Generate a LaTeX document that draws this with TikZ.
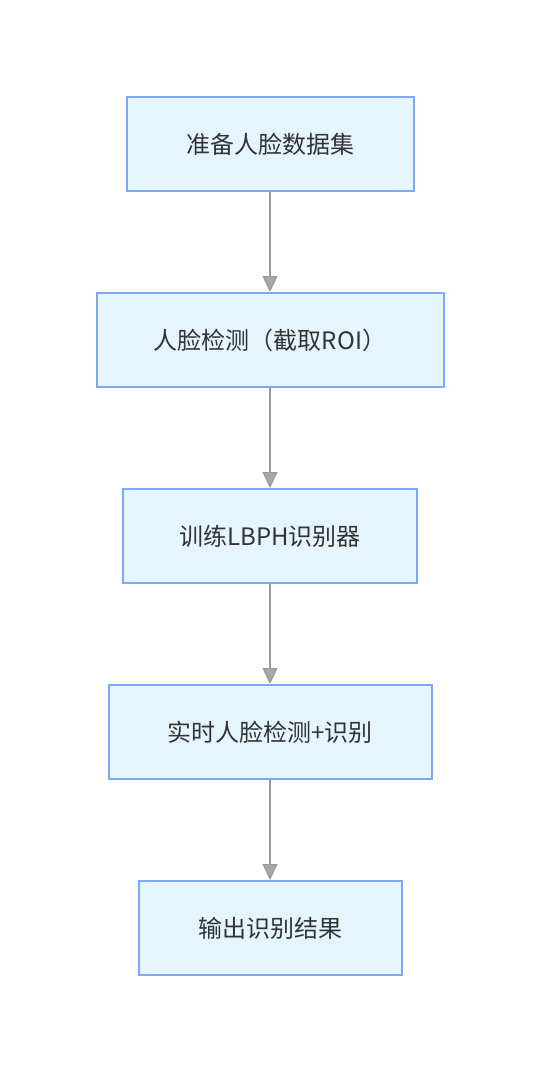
\documentclass[tikz,border=0pt]{standalone}
\usepackage{fontspec}
\newfontfamily\cjk{Noto Sans CJK SC}
\usetikzlibrary{arrows.meta,positioning}
\definecolor{paleblue}{RGB}{229,245,253}
\definecolor{edgeblue}{RGB}{124,168,245}
\definecolor{ink}{RGB}{51,51,51}
\definecolor{linegray}{RGB}{153,153,153}
\tikzset{
  x=1pt,y=1pt,
  >={Triangle[length=16pt,width=15pt,fill=linegray!85!white]},
  stepbox/.style={draw=edgeblue,fill=paleblue,line width=2pt,
    minimum height=94pt,minimum width=#1,align=center,
    font=\cjk\fontsize{24pt}{28pt}\selectfont,text=ink},
  stepbox/.default=288pt,
  flow/.style={->,line width=1.2pt,draw=linegray},
}
\begin{document}
\begin{tikzpicture}
    \useasboundingbox[fill=white] (0,0) rectangle (540,-1072);
    \foreach \n/\y/\w/\t in {1/-144/287pt/准备人脸数据集,2/-340/347pt/人脸检测（截取ROI）,3/-536/294pt/训练LBPH识别器,4/-732/323pt/实时人脸检测+识别,5/-928/263pt/输出识别结果}{
      \node[stepbox=\w] (s\n) at (270,\y) {\t};
    }
    \foreach \a/\b in {1/2,2/3,3/4,4/5}
      \draw[flow] (s\a) -- (s\b);
  \end{tikzpicture}
\end{document}
